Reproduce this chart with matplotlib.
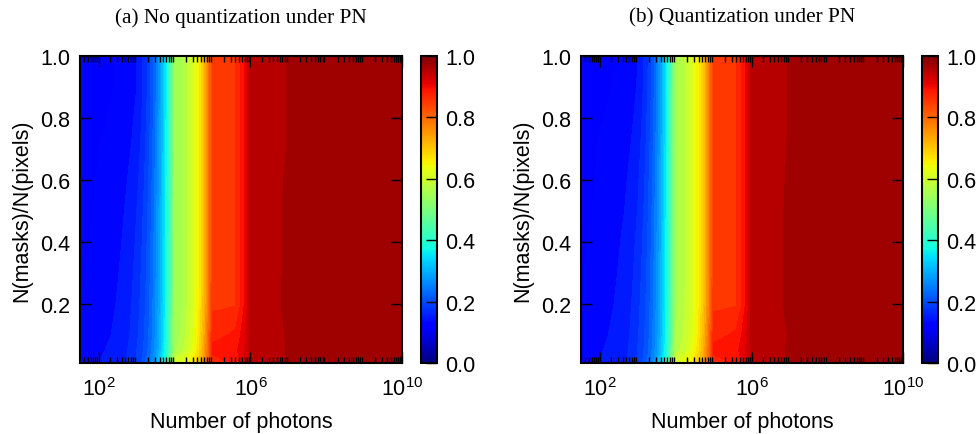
import numpy as np
from matplotlib import pyplot as plt
from matplotlib import ticker, cm, colors

plt.rcParams['font.family'] = ['Liberation Sans', 'DejaVu Sans']
plt.rcParams['axes.linewidth'] = 1.5
plt.rcParams['xtick.direction'] = 'in'
plt.rcParams['ytick.direction'] = 'in'

# number of photons (x) and mask ratio (y)
photons = [10 ** 1.5, 1e2, 1e3, 1e4, 1e5, 10 ** 5.6, 1e6, 1e7, 1e8, 1e10]
mask_ratio = [0.01, 0.05, 0.1, 0.2, 0.3, 0.4, 0.5, 0.6, 0.7, 0.8, 0.9, 1.0]

# rows follow mask_ratio (bottom -> top), columns follow photons
acc_no_quant = [
    [0.128, 0.140, 0.185, 0.600, 0.870, 0.885, 0.945, 0.963, 0.968, 0.968],
    [0.125, 0.138, 0.180, 0.555, 0.885, 0.895, 0.945, 0.963, 0.968, 0.968],
    [0.122, 0.135, 0.176, 0.545, 0.875, 0.885, 0.945, 0.964, 0.968, 0.968],
    [0.120, 0.132, 0.172, 0.540, 0.855, 0.858, 0.945, 0.970, 0.970, 0.970],
    [0.118, 0.130, 0.168, 0.540, 0.850, 0.858, 0.945, 0.968, 0.968, 0.968],
    [0.115, 0.128, 0.164, 0.540, 0.850, 0.858, 0.945, 0.968, 0.968, 0.968],
    [0.112, 0.126, 0.160, 0.540, 0.850, 0.858, 0.945, 0.968, 0.968, 0.968],
    [0.110, 0.124, 0.155, 0.540, 0.850, 0.858, 0.945, 0.966, 0.968, 0.968],
    [0.110, 0.120, 0.150, 0.540, 0.850, 0.858, 0.945, 0.962, 0.968, 0.968],
    [0.110, 0.118, 0.145, 0.540, 0.850, 0.858, 0.945, 0.962, 0.968, 0.968],
    [0.110, 0.116, 0.140, 0.540, 0.850, 0.858, 0.945, 0.962, 0.968, 0.968],
    [0.110, 0.115, 0.140, 0.540, 0.850, 0.858, 0.945, 0.962, 0.968, 0.968],
]

acc_quant = [
    [0.128, 0.140, 0.185, 0.610, 0.870, 0.885, 0.945, 0.965, 0.968, 0.968],
    [0.126, 0.139, 0.181, 0.570, 0.885, 0.895, 0.945, 0.965, 0.968, 0.968],
    [0.124, 0.137, 0.178, 0.560, 0.875, 0.885, 0.945, 0.962, 0.968, 0.968],
    [0.122, 0.134, 0.174, 0.555, 0.855, 0.858, 0.945, 0.968, 0.968, 0.968],
    [0.120, 0.132, 0.170, 0.555, 0.850, 0.858, 0.945, 0.968, 0.968, 0.968],
    [0.117, 0.130, 0.166, 0.555, 0.850, 0.858, 0.945, 0.968, 0.968, 0.968],
    [0.114, 0.127, 0.161, 0.555, 0.850, 0.858, 0.945, 0.967, 0.968, 0.968],
    [0.112, 0.125, 0.157, 0.555, 0.850, 0.858, 0.945, 0.965, 0.968, 0.968],
    [0.110, 0.122, 0.152, 0.555, 0.850, 0.858, 0.945, 0.963, 0.968, 0.968],
    [0.110, 0.119, 0.147, 0.555, 0.850, 0.858, 0.945, 0.962, 0.968, 0.968],
    [0.110, 0.117, 0.142, 0.555, 0.850, 0.858, 0.945, 0.962, 0.968, 0.968],
    [0.110, 0.115, 0.140, 0.555, 0.850, 0.858, 0.945, 0.962, 0.968, 0.968],
]

titles = ['(a) No quantization under PN', '(b) Quantization under PN']
levels = np.linspace(0, 1, 51)
FS = 15.5


def _draw_panel(ax, cax, z):
    ax.contourf(photons, mask_ratio, np.array(z), levels=levels, cmap='jet')
    ax.set_xscale('log')
    ax.set_xlim(photons[0], photons[-1])
    ax.set_ylim(mask_ratio[0], mask_ratio[-1])
    ax.xaxis.set_major_locator(ticker.FixedLocator([1e2, 1e6, 1e10]))
    ax.xaxis.set_minor_locator(ticker.LogLocator(base=10, subs=np.arange(2, 10), numticks=100))
    ax.xaxis.set_minor_formatter(ticker.NullFormatter())
    ax.set_yticks([0.2, 0.4, 0.6, 0.8, 1.0])
    ax.tick_params(which='both', top=True, right=True, labelsize=FS)
    ax.tick_params(axis='y', pad=7)
    ax.tick_params(axis='x', pad=10)
    ax.tick_params(which='major', length=8, width=1)
    ax.tick_params(which='minor', length=4, width=1)
    ax.set_xlabel('Number of photons', fontsize=FS, labelpad=8)
    ax.set_ylabel('N(masks)/N(pixels)', fontsize=FS, labelpad=6)

    sm = cm.ScalarMappable(norm=colors.Normalize(0, 1), cmap='jet')
    cb = plt.colorbar(sm, cax=cax, ticks=[0.0, 0.2, 0.4, 0.6, 0.8, 1.0])
    cb.ax.tick_params(labelsize=FS, length=8, width=1, direction='in', pad=6)
    cb.ax.yaxis.set_major_formatter(ticker.FormatStrFormatter('%.1f'))
    cb.outline.set_linewidth(1.5)


fig = plt.figure(figsize=(9.79, 4.35), dpi=100)
ax_a = fig.add_axes([0.0817, 0.1632, 0.3289, 0.7069])
cax_a = fig.add_axes([0.4300, 0.1632, 0.0163, 0.7069])
ax_b = fig.add_axes([0.5935, 0.1632, 0.3289, 0.7069])
cax_b = fig.add_axes([0.9418, 0.1632, 0.0163, 0.7069])

_draw_panel(ax_a, cax_a, acc_no_quant)
_draw_panel(ax_b, cax_b, acc_quant)

fig.text(0.2461, 0.958, titles[0], ha='center', va='center', fontsize=15.3,
         family=['Liberation Serif', 'DejaVu Serif'])
fig.text(0.7580, 0.958, titles[1], ha='center', va='center', fontsize=15.3,
         family=['Liberation Serif', 'DejaVu Serif'])

fig.savefig('out.png', dpi=100)
